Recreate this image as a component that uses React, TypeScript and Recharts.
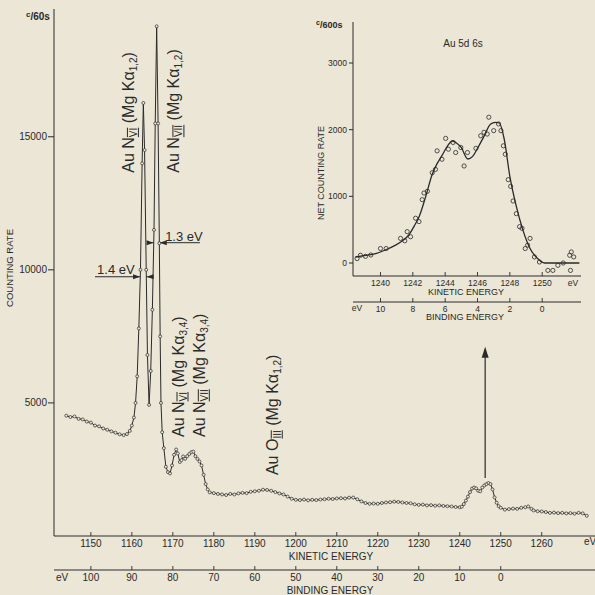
import React from 'react';
import { LineChart, ComposedChart, Line, Scatter, XAxis, YAxis, ReferenceLine, ReferenceDot } from 'recharts';

const INK = '#2a2a2a';
const PAPER = '#ebe6d6';
const FONT = '"Liberation Sans", Arial, Helvetica, sans-serif';

// ---------- main spectrum (kinetic energy in eV, counts per 60 s) ----------
const mainKE = [
  1144, 1145, 1146, 1147, 1148, 1149, 1150, 1151, 1152, 1153, 1154, 1155, 1156, 1157, 1158, 1158.8, 1159.5,
  1160, 1160.5, 1160.9, 1161.3, 1161.7, 1162.1, 1162.5, 1162.8, 1163.1, 1163.5, 1163.8, 1164.2, 1164.6,
  1165.0, 1165.4, 1165.7, 1166.05, 1166.4, 1166.7, 1166.9, 1167.1, 1167.4, 1167.8, 1168.3, 1168.8, 1169.3,
  1169.8, 1170.3, 1170.8, 1171.2, 1171.7, 1172.1, 1172.5, 1173.0, 1173.5, 1174.0, 1174.5, 1175.0, 1175.5,
  1176.0, 1176.5, 1177.0, 1177.5, 1178.0, 1178.5, 1179.0, 1180, 1181, 1182, 1183, 1184, 1185, 1186, 1187,
  1188, 1189, 1190, 1191, 1192, 1193, 1194, 1195, 1196, 1197, 1198, 1199, 1200, 1201, 1202, 1203, 1204,
  1205, 1206, 1207, 1208, 1209, 1210, 1211, 1212, 1213, 1214, 1215, 1216, 1217, 1218, 1219, 1220, 1221,
  1222, 1223, 1224, 1225, 1226, 1227, 1228, 1229, 1230, 1231, 1232, 1233, 1234, 1235, 1236, 1237, 1238,
  1239, 1240, 1240.5, 1241, 1241.5, 1242, 1242.5, 1243, 1243.5, 1244, 1244.5, 1245, 1245.5, 1246, 1246.5,
  1247, 1247.5, 1248, 1248.5, 1249, 1249.5, 1250, 1251, 1252, 1253, 1254, 1255, 1256, 1256.7, 1257.5, 1258,
  1259, 1260, 1261, 1262, 1263, 1264, 1265, 1266, 1267, 1268, 1269, 1270, 1271,
];
const mainCounts = [
  4520, 4470, 4490, 4400, 4380, 4300, 4260, 4150, 4120, 4040, 3990, 3930, 3880, 3820, 3790, 3830, 3950,
  4150, 4450, 5000, 6000, 7800, 10000, 14000, 16270, 14500, 10000, 6800, 4925, 6200,
  8500, 11500, 15500, 19150, 15500, 11000, 7500, 5000, 3900, 3300, 2600, 2400, 2350,
  2650, 3050, 3250, 3100, 2780, 2850, 2990, 2900, 3000, 3080, 3150, 3170, 3000,
  2900, 2800, 2650, 2300, 1950, 1750, 1640, 1610, 1580, 1560, 1540, 1580, 1560, 1600, 1620,
  1610, 1660, 1680, 1700, 1740, 1730, 1700, 1650, 1600, 1560, 1480, 1400, 1360, 1350, 1370, 1340, 1360,
  1350, 1370, 1380, 1400, 1390, 1410, 1420, 1410, 1440, 1445, 1380, 1300, 1240, 1210, 1220, 1210, 1240,
  1260, 1270, 1290, 1280, 1260, 1240, 1230, 1190, 1170, 1180, 1150, 1160, 1140, 1150, 1130, 1120, 1110,
  1090, 1080, 1100, 1200, 1330, 1480, 1650, 1780, 1820, 1790, 1700, 1680, 1820, 1900, 1950,
  1990, 1950, 1750, 1450, 1250, 1120, 1060, 990, 1010, 1030, 1020, 1060, 1080, 1110, 1020, 960,
  930, 920, 900, 870, 880, 860, 870, 850, 860, 840, 870, 850, 760,
];
const keTicks = [1150, 1160, 1170, 1180, 1190, 1200, 1210, 1220, 1230, 1240, 1250, 1260];
const bindingTicks = [1150, 1160, 1170, 1180, 1190, 1200, 1210, 1220, 1230, 1240, 1250]; // KE positions
const countTicks = [5000, 10000, 15000];

// ---------- inset: Au 5d 6s (net counts per 600 s) ----------
const insetFitKE = [
  1238.45, 1239.0, 1239.7, 1240.3, 1240.9, 1241.4, 1241.75, 1242.1, 1242.4, 1242.8, 1243.2, 1243.5, 1243.8,
  1244.1, 1244.45, 1244.7, 1245.0, 1245.4, 1245.7, 1246.0, 1246.4, 1246.8, 1247.1, 1247.35, 1247.65, 1248.0,
  1248.4, 1248.8, 1249.2, 1249.7, 1250.15, 1252.3,
];
const insetFitCounts = [
  90, 110, 140, 195, 265, 340, 420, 560, 700, 1000, 1330, 1490, 1610,
  1740, 1830, 1800, 1730, 1560, 1600, 1720, 1900, 2080, 2110, 2100, 1860, 1300,
  850, 500, 240, 70, 0, 0,
];
const insetPointKE = [
  1238.55, 1238.76, 1239.07, 1239.4, 1240.0, 1240.35, 1241.24, 1241.5, 1241.65, 1241.86, 1242.17, 1242.38,
  1242.58, 1242.69, 1242.9, 1243.2, 1243.4, 1243.5, 1243.8, 1244.03, 1244.2, 1244.49, 1244.65, 1244.97,
  1245.17, 1245.38, 1245.9, 1246.2, 1246.4, 1246.6, 1246.7, 1247.0, 1247.3, 1247.45, 1247.6, 1247.72,
  1247.9, 1248.05, 1248.2, 1248.4, 1248.6, 1248.75, 1248.95, 1249.1, 1249.25, 1249.52, 1249.83, 1250.35,
  1250.66, 1250.97, 1251.3, 1251.7, 1251.8, 1251.95, 1251.75,
];
const insetPointCounts = [
  66, 116, 100, 120, 217, 217, 369, 333, 470, 394, 672, 621,
  950, 1050, 1076, 1354, 1404, 1682, 1556, 1869, 1707, 1808, 1657, 1732,
  1455, 1657, 1720, 1909, 1960, 1934, 2187, 1985, 2086, 1985, 1758, 1631,
  1250, 1150, 930, 740, 545, 520, 217, 268, 369, 91, 15, -111,
  -111, -35, 0, 116, 166, 91, -111,
];
const insetKETicks = [1240, 1242, 1244, 1246, 1248, 1250];
const insetCountTicks = [0, 1000, 2000, 3000];

// ---------- annotations (data coordinates) ----------
const KE_DOMAIN: [number, number] = [1141, 1273];
const COUNT_DOMAIN: [number, number] = [0, 19800];
const INSET_KE_DOMAIN: [number, number] = [1238.3, 1252.4];
const INSET_COUNT_DOMAIN: [number, number] = [-195, 3615];
const BINDING_ZERO = 1250;

const mainData = mainKE.map((ke, i) => ({ ke, c: mainCounts[i] }));
const insetFit = insetFitKE.map((ke, i) => ({ ke, c: insetFitCounts[i] }));
const insetPoints = insetPointKE.map((ke, i) => ({ ke, c: insetPointCounts[i] }));

function makeTick(fontSize: number, tickLen: number, labelDy: number, format: (v: number) => string) {
  return (props: any) => {
    const { x, y, payload } = props;
    return (
      <g>
        <line x1={x} x2={x} y1={y} y2={y - tickLen} stroke={INK} strokeWidth={0.9} />
        <text x={x} y={y + labelDy} textAnchor="middle" fontSize={fontSize} fontFamily={FONT} fill={INK}>
          {format(payload.value)}
        </text>
      </g>
    );
  };
}

const MainKETick = makeTick(10, 4, 10.5, (v) => String(v));
const MainBETick = makeTick(10, 4, 11, (v) => String(BINDING_ZERO - v));
const InsetKETick = makeTick(8.5, 4, 10, (v) => String(v));
const InsetBETick = makeTick(8.5, 4, 9.5, (v) => String(BINDING_ZERO - v));

function peakLabel(head: string, shell: string, line: string) {
  return (p: any) => {
    const { cx, cy } = p;
    return (
      <text transform={`rotate(-90 ${cx} ${cy})`} x={cx} y={cy} fontSize={16} fontFamily={FONT} fill={INK}>
        {head}
        <tspan fontSize={10} dy={3} textDecoration="overline underline">{shell}</tspan>
        <tspan dy={-3}>{' (Mg K\u03B1'}</tspan>
        <tspan fontSize={10} dy={3}>{line}</tspan>
        <tspan dy={-3}>)</tspan>
      </text>
    );
  };
}

const textShape = (s: string, size: number) => (p: any) => (
  <text x={p.cx} y={p.cy} textAnchor="middle" fontSize={size} fontFamily={FONT} fill={INK}>{s}</text>
);
const arrowRight = (p: any) => <path d={`M${p.cx},${p.cy} l-7,-2.5 l0,5 z`} fill={INK} />;
const arrowLeft = (p: any) => <path d={`M${p.cx},${p.cy} l7,-2.5 l0,5 z`} fill={INK} />;
const arrowUp = (p: any) => <path d={`M${p.cx},${p.cy} l-3.5,11 l7,0 z`} fill={INK} />;
const openCircle = (p: any) => (
  <circle cx={p.cx} cy={p.cy} r={2.1} fill="none" stroke={INK} strokeWidth={0.8} />
);

const txt = { fontFamily: FONT, fill: INK } as const;

export default function App() {
  return (
    <div style={{ position: 'absolute', left: 0, top: 0, width: 595, height: 595, background: PAPER, overflow: 'hidden' }}>
      <LineChart width={595} height={595} data={mainData} margin={{ top: 9, right: 0, bottom: 0, left: 0 }}>
        <XAxis
          xAxisId={0}
          dataKey="ke"
          type="number"
          domain={KE_DOMAIN}
          allowDataOverflow
          ticks={keTicks}
          interval={0}
          tickSize={0}
          tickMargin={0}
          tickLine={false}
          tick={MainKETick}
          axisLine={{ stroke: INK, strokeWidth: 1 }}
          height={34}
        />
        <XAxis
          xAxisId={1}
          dataKey="ke"
          type="number"
          domain={KE_DOMAIN}
          allowDataOverflow
          ticks={bindingTicks}
          interval={0}
          tickSize={0}
          tickMargin={0}
          tickLine={false}
          tick={MainBETick}
          axisLine={{ stroke: INK, strokeWidth: 1 }}
          height={25}
        />
        <XAxis
          xAxisId={2}
          orientation="top"
          dataKey="ke"
          type="number"
          domain={KE_DOMAIN}
          allowDataOverflow
          height={0}
          tick={false}
          tickLine={false}
          axisLine={{ stroke: INK, strokeWidth: 1 }}
        />
        <YAxis
          type="number"
          domain={COUNT_DOMAIN}
          allowDataOverflow
          ticks={countTicks}
          interval={0}
          width={54}
          tickSize={6}
          tickMargin={1}
          tick={{ fontSize: 10, fill: INK, fontFamily: FONT }}
          tickLine={{ stroke: INK }}
          axisLine={{ stroke: INK, strokeWidth: 1 }}
        />
        <Line
          dataKey="c"
          type="linear"
          stroke={INK}
          strokeWidth={1}
          dot={{ r: 1.5, fill: PAPER, stroke: INK, strokeWidth: 0.7 }}
          isAnimationActive={false}
        />
        {/* peak labels */}
        <ReferenceDot x={1160.5} y={13650} r={0} ifOverflow="visible" shape={peakLabel('Au N', 'VI', '1,2')} />
        <ReferenceDot x={1171.6} y={13650} r={0} ifOverflow="visible" shape={peakLabel('Au N', 'VII', '1,2')} />
        <ReferenceDot x={1172.6} y={3720} r={0} ifOverflow="visible" shape={peakLabel('Au N', 'VI', '3,4')} />
        <ReferenceDot x={1177.8} y={3720} r={0} ifOverflow="visible" shape={peakLabel('Au N', 'VII', '3,4')} />
        <ReferenceDot x={1195.6} y={2290} r={0} ifOverflow="visible" shape={peakLabel('Au O', 'III', '1,2')} />
        {/* FWHM markers */}
        <ReferenceLine segment={[{ x: 1151.0, y: 9740 }, { x: 1162.0, y: 9740 }]} stroke={INK} strokeWidth={1} ifOverflow="visible" />
        <ReferenceDot x={1162.0} y={9740} r={0} ifOverflow="visible" shape={arrowRight} />
        <ReferenceLine segment={[{ x: 1163.6, y: 9740 }, { x: 1165.2, y: 9740 }]} stroke={INK} strokeWidth={1} ifOverflow="visible" />
        <ReferenceDot x={1163.6} y={9740} r={0} ifOverflow="visible" shape={arrowLeft} />
        <ReferenceDot x={1156.1} y={9840} r={0} ifOverflow="visible" shape={textShape('1.4 eV', 13)} />
        <ReferenceLine segment={[{ x: 1163.9, y: 11020 }, { x: 1165.3, y: 11020 }]} stroke={INK} strokeWidth={1} ifOverflow="visible" />
        <ReferenceDot x={1165.3} y={11020} r={0} ifOverflow="visible" shape={arrowRight} />
        <ReferenceLine segment={[{ x: 1166.8, y: 11020 }, { x: 1176.6, y: 11020 }]} stroke={INK} strokeWidth={1} ifOverflow="visible" />
        <ReferenceDot x={1166.8} y={11020} r={0} ifOverflow="visible" shape={arrowLeft} />
        <ReferenceDot x={1172.7} y={11080} r={0} ifOverflow="visible" shape={textShape('1.3 eV', 13)} />
        {/* arrow to inset */}
        <ReferenceLine segment={[{ x: 1246.2, y: 2180 }, { x: 1246.2, y: 7000 }]} stroke={INK} strokeWidth={1.2} ifOverflow="visible" />
        <ReferenceDot x={1246.2} y={7110} r={0} ifOverflow="visible" shape={arrowUp} />
      </LineChart>

      <div style={{ position: 'absolute', left: 300, top: 10 }}>
        <ComposedChart width={290} height={315} margin={{ top: 12, right: 9, bottom: 3, left: 13 }}>
          <XAxis
            xAxisId={0}
            dataKey="ke"
            type="number"
            domain={INSET_KE_DOMAIN}
            allowDataOverflow
            ticks={insetKETicks}
            interval={0}
            tickSize={0}
            tickMargin={0}
            tickLine={false}
            tick={InsetKETick}
            axisLine={{ stroke: INK, strokeWidth: 1 }}
            height={26}
          />
          <XAxis
            xAxisId={1}
            dataKey="ke"
            type="number"
            domain={INSET_KE_DOMAIN}
            allowDataOverflow
            ticks={insetKETicks}
            interval={0}
            tickSize={0}
            tickMargin={0}
            tickLine={false}
            tick={InsetBETick}
            axisLine={{ stroke: INK, strokeWidth: 1 }}
            height={20}
          />
          <XAxis
            xAxisId={2}
            orientation="top"
            dataKey="ke"
            type="number"
            domain={INSET_KE_DOMAIN}
            allowDataOverflow
            height={0}
            tick={false}
            tickLine={false}
            axisLine={{ stroke: INK, strokeWidth: 1 }}
          />
          <YAxis
            yAxisId={0}
            type="number"
            domain={INSET_COUNT_DOMAIN}
            allowDataOverflow
            ticks={insetCountTicks}
            interval={0}
            width={40}
            tickSize={4}
            tickMargin={2}
            tick={{ fontSize: 8.5, fill: INK, fontFamily: FONT }}
            tickLine={{ stroke: INK }}
            axisLine={{ stroke: INK, strokeWidth: 1 }}
          />
          <YAxis
            yAxisId={1}
            orientation="right"
            type="number"
            domain={[0, 1]}
            allowDataOverflow
            width={0}
            tick={false}
            tickLine={false}
            axisLine={{ stroke: INK, strokeWidth: 1 }}
          />
          <Line data={insetFit} dataKey="c" type="monotone" stroke={INK} strokeWidth={1.3} dot={false} isAnimationActive={false} />
          <Scatter data={insetPoints} dataKey="c" shape={openCircle} isAnimationActive={false} />
        </ComposedChart>
      </div>

      <svg width={595} height={595} style={{ position: 'absolute', left: 0, top: 0, pointerEvents: 'none' }}>
        <text x={26} y={20} fontSize={10} fontWeight="bold" {...txt}>
          <tspan fontSize={8} dy={-3}>c</tspan>
          <tspan dy={3}>/60s</tspan>
        </text>
        <text transform="rotate(-90 13 268)" x={13} y={268} textAnchor="middle" fontSize={9.5} {...txt}>COUNTING RATE</text>
        <text x={331} y={560} textAnchor="middle" fontSize={10} {...txt}>KINETIC ENERGY</text>
        <text x={330} y={594} textAnchor="middle" fontSize={10} {...txt}>BINDING ENERGY</text>
        <text x={590} y={545} textAnchor="middle" fontSize={10} {...txt}>eV</text>
        <text x={62} y={581} textAnchor="middle" fontSize={10} {...txt}>eV</text>

        <text x={316} y={28} fontSize={9} fontWeight="bold" {...txt}>
          <tspan fontSize={7} dy={-3}>c</tspan>
          <tspan dy={3}>/600s</tspan>
        </text>
        <text transform="rotate(-90 324 173)" x={324} y={173} textAnchor="middle" fontSize={9} {...txt}>NET COUNTING RATE</text>
        <text x={463} y={47} textAnchor="middle" fontSize={10} {...txt}>Au 5d 6s</text>
        <text x={573} y={286} textAnchor="middle" fontSize={8.5} {...txt}>eV</text>
        <text x={466} y={295} textAnchor="middle" fontSize={9} {...txt}>KINETIC ENERGY</text>
        <text x={357} y={311} textAnchor="middle" fontSize={8.5} {...txt}>eV</text>
        <text x={465} y={320} textAnchor="middle" fontSize={9} {...txt}>BINDING ENERGY</text>
      </svg>
    </div>
  );
}
